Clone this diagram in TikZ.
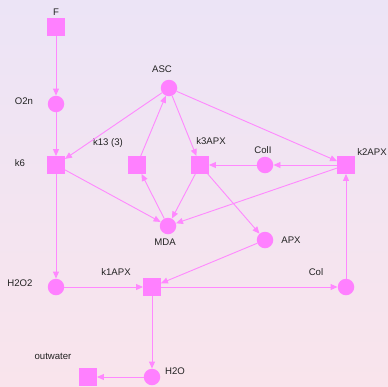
\documentclass[tikz,border=0pt]{standalone}
\usepackage{fontspec}
\setmainfont{Liberation Sans}
\usetikzlibrary{arrows.meta}
\definecolor{nodefill}{HTML}{FF80FF}
\definecolor{edgecol}{HTML}{FF88FF}
\definecolor{bgtop}{HTML}{ECE4F6}
\definecolor{bgbot}{HTML}{F9E4EC}
\definecolor{labcol}{HTML}{222222}
\tikzset{
  place/.style={circle, fill=nodefill, draw=none, minimum size=16.5pt, inner sep=0pt},
  trans/.style={rectangle, fill=nodefill, draw=none, minimum size=17.5pt, inner sep=0pt},
  lab/.style={text=labcol, font=\fontsize{9.6}{11}\selectfont, inner sep=0pt},
  arc/.style={draw=edgecol, line width=0.9pt, -{Triangle[length=7pt,width=6pt]}},
}
\begin{document}
\begin{tikzpicture}[x=1pt,y=-1pt]
  \shade[top color=bgtop, bottom color=bgbot] (0,0) rectangle (388,386);
  \useasboundingbox (0,0) rectangle (388,386);

  % places
  \node[place] (O2n)  at (56,104) {};
  \node[place] (ASC)  at (169,88) {};
  \node[place] (ColI) at (265,165) {};
  \node[place] (MDA)  at (168,226) {};
  \node[place] (APX)  at (265,240) {};
  \node[place] (H2O2) at (56,287) {};
  \node[place] (Col)  at (346,287) {};
  \node[place] (H2O)  at (152,377) {};

  % transitions
  \node[trans] (F)     at (56,27) {};
  \node[trans] (k6)    at (56,165) {};
  \node[trans] (k13)   at (137,165) {};
  \node[trans] (k3APX) at (200,165) {};
  \node[trans] (k2APX) at (346,165) {};
  \node[trans] (k1APX) at (152,287) {};
  \node[trans] (outw)  at (88,377) {};

  % labels
  \node[lab] (lF)     at (56,12) {F};
  \node[lab] (lO2n)   at (24,101) {O2n};
  \node[lab] (lk6)    at (20,163) {k6};
  \node[lab] (lASC)   at (162,69) {ASC};
  \node[lab] (lk13)   at (108,143) {k13 (3)};
  \node[lab] (lk3)    at (211,141) {k3APX};
  \node[lab] (lColI)  at (263,150) {ColI};
  \node[lab] (lk2)    at (372,152) {k2APX};
  \node[lab] (lMDA)   at (165,242) {MDA};
  \node[lab] (lAPX)   at (291,240) {APX};
  \node[lab] (lH2O2)  at (20,283) {H2O2};
  \node[lab] (lk1)    at (116,272) {k1APX};
  \node[lab] (lCol)   at (316,272) {Col};
  \node[lab] (lH2O)   at (175,371) {H2O};
  \node[lab] (lout)   at (53,356) {outwater};

  % arcs
  \draw[arc] (F) -- (O2n);
  \draw[arc] (O2n) -- (k6);
  \draw[arc] (ASC) -- (k6);
  \draw[arc] (k13) -- (ASC);
  \draw[arc] (ASC) -- (k3APX);
  \draw[arc] (ASC) -- (k2APX);
  \draw[arc] (ColI) -- (k3APX);
  \draw[arc] (k2APX) -- (ColI);
  \draw[arc] (k6) -- (MDA);
  \draw[arc] (MDA) -- (k13);
  \draw[arc] (k3APX) -- (MDA);
  \draw[arc] (k2APX) -- (MDA);
  \draw[arc] (k3APX) -- (APX);
  \draw[arc] (APX) -- (k1APX);
  \draw[arc] (k6) -- (H2O2);
  \draw[arc] (H2O2) -- (k1APX);
  \draw[arc] (k1APX) -- (Col);
  \draw[arc] (Col) -- (k2APX);
  \draw[arc] (k1APX) -- (H2O);
  \draw[arc] (H2O) -- (outw);
\end{tikzpicture}
\end{document}
